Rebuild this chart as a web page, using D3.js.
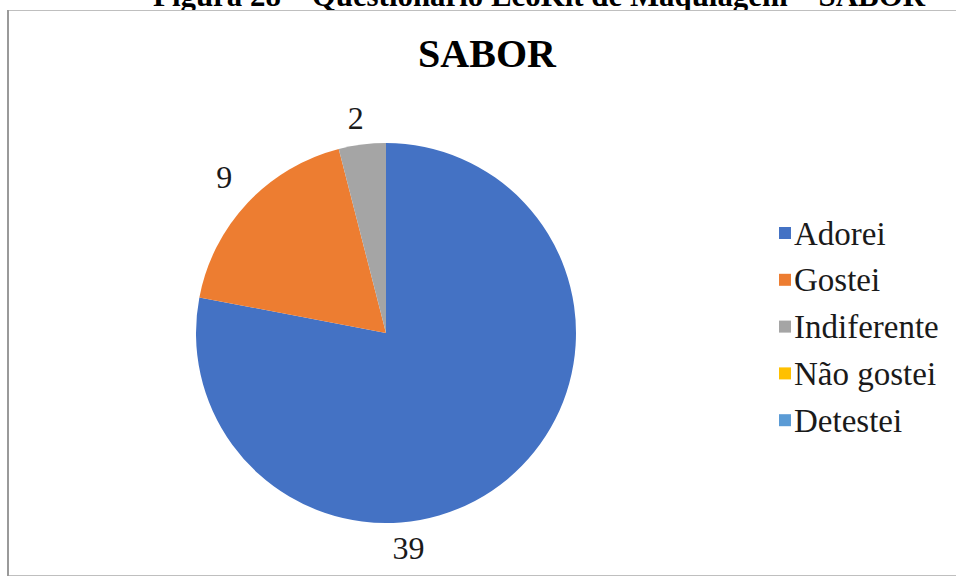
<!DOCTYPE html>
<html><head><meta charset="utf-8">
<script src="https://cdn.jsdelivr.net/npm/d3@7"></script>
<style>body{margin:0;background:#fff}svg{display:block}</style>
</head><body>
<script>
const categories = ["Adorei", "Gostei", "Indiferente", "Não gostei", "Detestei"];
const values = [39, 9, 2, 0, 0];
const colors = ["#4472C4", "#ED7D31", "#A5A5A5", "#FFC000", "#5B9BD5"];
const labelAngles = [174, 314, 352]; // degrees clockwise from top
const labelRadii = [216, 225, 217];
const title = "SABOR";
const caption = "Figura 28 – Questionário EcoKit de Maquiagem – SABOR";

const W = 956, H = 578;
const svg = d3.select("body").append("svg").attr("width", W).attr("height", H);
const serif = "'Liberation Serif','Times New Roman',serif";

// caption (cut off at top, as in the reference)
const cap = svg.append("text").attr("x", 539).attr("y", 6).attr("text-anchor", "middle")
  .attr("font-family", serif).attr("font-weight", "bold").attr("font-size", 28)
  .attr("fill", "#000").text(caption);
const cl = cap.node().getComputedTextLength();
cap.attr("font-size", 28 * 772 / cl);

// frame
svg.append("rect").attr("x", 8.5).attr("y", 10.5).attr("width", W).attr("height", 565)
  .attr("fill", "#fff").attr("stroke", "#bfbfbf").attr("stroke-width", 1);
svg.append("line").attr("x1", 8).attr("x2", 8).attr("y1", 10).attr("y2", 576)
  .attr("stroke", "#9a9a9a").attr("stroke-width", 2);

svg.append("text").attr("x", 487).attr("y", 67).attr("text-anchor", "middle")
  .attr("font-family", serif).attr("font-weight", "bold").attr("font-size", 40)
  .attr("fill", "#000").text(title);

const cx = 386, cy = 333, r = 190;
const data = categories.map((c, i) => ({cat: c, value: values[i], color: colors[i]}));
const pie = d3.pie().sort(null).value(d => d.value);
const arcs = pie(data);
const arc = d3.arc().innerRadius(0).outerRadius(r);
const g = svg.append("g").attr("transform", `translate(${cx},${cy})`);
g.selectAll("path").data(arcs.filter(a => a.value > 0)).join("path")
  .attr("d", arc).attr("fill", d => d.data.color);

g.selectAll("text.lbl").data(arcs.filter(a => a.value > 0)).join("text")
  .attr("class", "lbl")
  .attr("x", (d, i) => labelRadii[i] * Math.sin(labelAngles[i] * Math.PI / 180))
  .attr("y", (d, i) => -labelRadii[i] * Math.cos(labelAngles[i] * Math.PI / 180))
  .attr("dy", "0.35em").attr("text-anchor", "middle")
  .attr("font-family", serif).attr("font-size", 32).attr("fill", "#1a1a1a")
  .text(d => d.value);

const lg = svg.append("g").attr("transform", "translate(779,233)");
const row = lg.selectAll("g").data(data).join("g")
  .attr("transform", (d, i) => `translate(0,${i * 46.8})`);
row.append("rect").attr("x", 0).attr("y", -6).attr("width", 12).attr("height", 12)
  .attr("fill", d => d.color);
row.append("text").attr("x", 15).attr("y", 0).attr("dy", "0.35em")
  .attr("font-family", serif).attr("font-size", 33).attr("fill", "#1a1a1a")
  .text(d => d.cat);
</script>
</body></html>
